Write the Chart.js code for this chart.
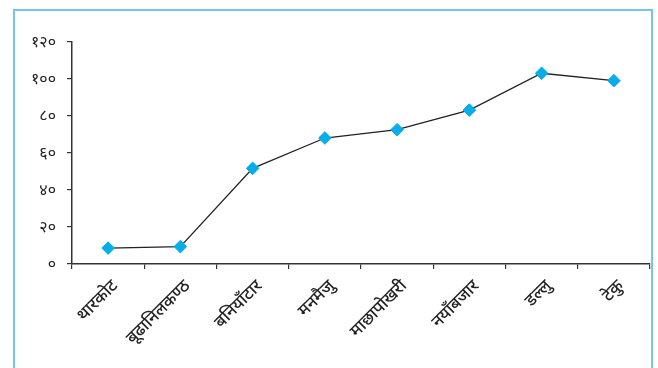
<!DOCTYPE html>
<html>
<head>
<meta charset="utf-8">
<script src="https://cdn.jsdelivr.net/npm/chart.js@4"></script>
<style>
  html, body { margin: 0; padding: 0; background: #fff; }
  #wrap { position: relative; width: 658px; height: 368px; overflow: hidden; }
  #frame {
    position: absolute; left: 13px; top: 9px; width: 640px; height: 400px;
    border: 2px solid #74c6ec; box-sizing: border-box;
  }
  canvas { position: absolute; left: 0; top: 0; }
</style>
</head>
<body>
<div id="wrap">
  <div id="frame"></div>
  <canvas id="lineChart" width="658" height="368"></canvas>
</div>
<script>
// categories and values
const places = ["थारकोट", "बूढानिलकण्ठ", "बनियाँटार", "मनमैजु", "माछापोखरी", "नयाँबजार", "डल्लु", "टेकु"];
const values = [8.6, 9.4, 51.7, 68.1, 72.6, 83.2, 103.1, 99.1];
const yTickLabels = ["०", "२०", "४०", "६०", "८०", "१००", "१२०"];

const labelFont = "'Noto Sans', 'Noto Sans Devanagari', 'Lohit Devanagari', sans-serif";

const ctx = document.getElementById("lineChart").getContext("2d");
const chart = new Chart(ctx, {
  type: "line",
  data: {
    labels: places,
    datasets: [{
      data: values,
      borderColor: "#222",
      borderWidth: 1.3,
      pointStyle: "rectRot",
      pointRadius: 6.3,
      pointBorderWidth: 1,
      pointBackgroundColor: "#05aeea",
      pointBorderColor: "#05aeea",
      tension: 0
    }]
  },
  options: {
    responsive: false,
    animation: false,
    layout: { padding: { left: 0, right: 8, top: 42, bottom: 0 } },
    plugins: { legend: { display: false }, tooltip: { enabled: false } },
    scales: {
      x: {
        offset: true,
        grid: { offset: true, drawOnChartArea: false, color: "#333", tickLength: 5, lineWidth: 1.2 },
        border: { color: "#333", width: 1.5 },
        ticks: {
          minRotation: 45, maxRotation: 45, autoSkip: false,
          color: "#222", padding: 7, labelOffset: 7,
          font: { family: labelFont, size: 17, weight: "500" }
        },
        afterFit: function (scale) {
          scale.height = 104;
          scale.paddingLeft = 0;
          scale.paddingRight = 0;
        }
      },
      y: {
        min: 0, max: 120,
        ticks: {
          stepSize: 20, color: "#222", padding: 11,
          font: { family: labelFont, size: 16 },
          callback: function (value, index) { return yTickLabels[index]; }
        },
        grid: { drawOnChartArea: false, color: "#333", tickLength: 5, lineWidth: 1.2 },
        border: { color: "#333", width: 1.5 },
        afterFit: function (scale) {
          scale.width = 72;
          scale.paddingTop = 0;
          scale.paddingBottom = 0;
        }
      }
    }
  }
});
</script>
</body>
</html>
